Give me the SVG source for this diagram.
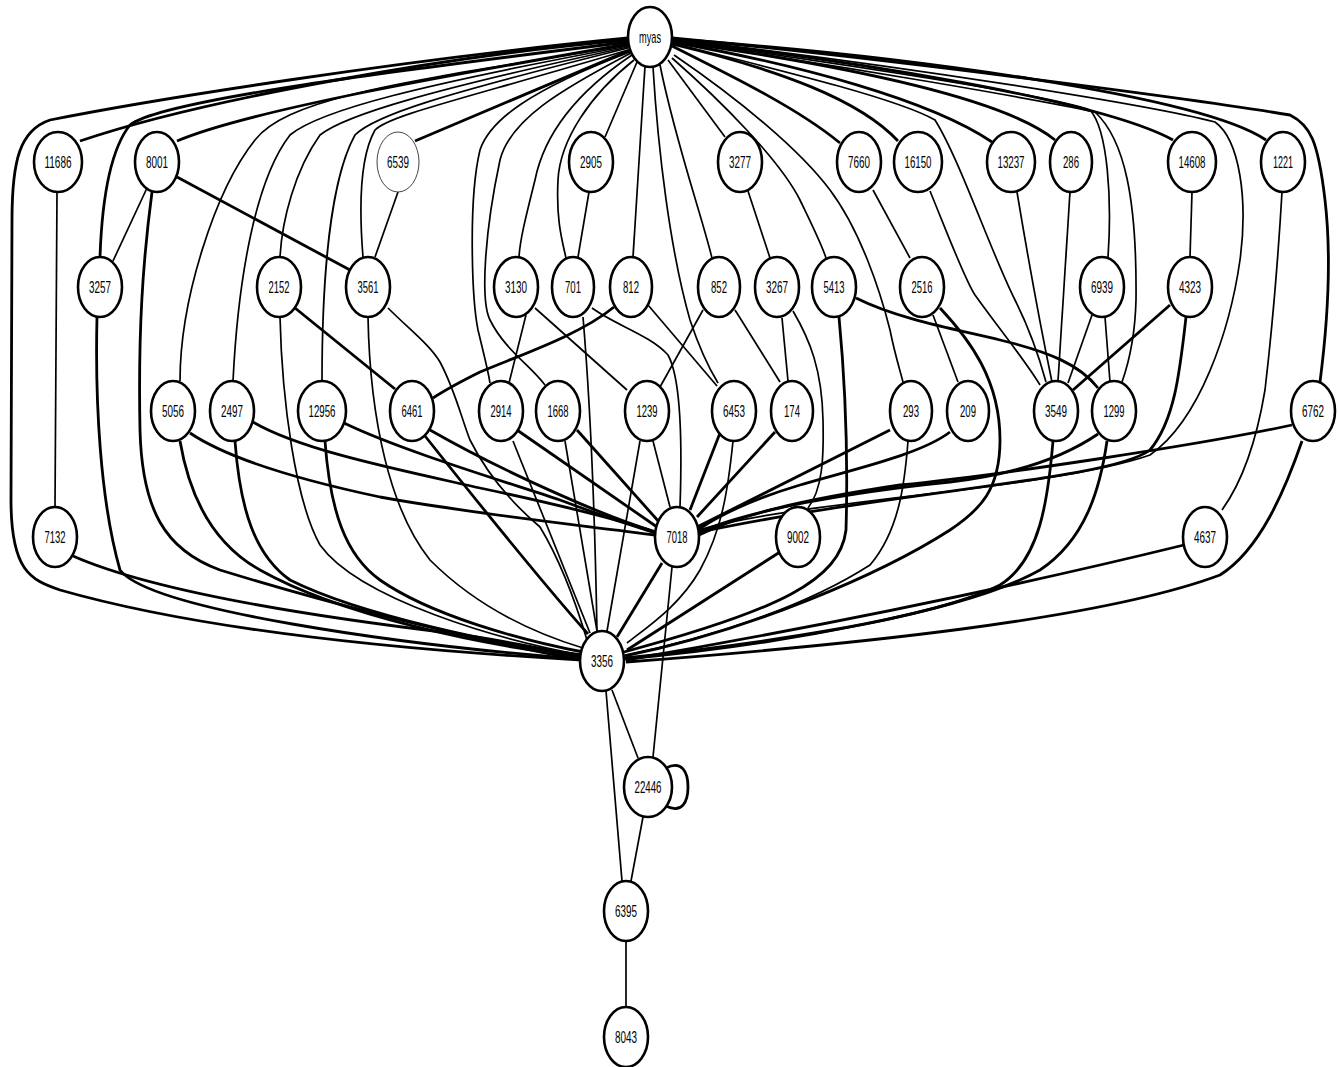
<svg xmlns="http://www.w3.org/2000/svg" width="1338" height="1067" viewBox="0 0 1338 1067">
<style>
.e{fill:none;stroke:#000;stroke-width:1.7}
.t{fill:none;stroke:#000;stroke-width:2.8}
.n ellipse{fill:#fff;stroke:#000;stroke-width:2.6}
.n text{font-family:"Liberation Sans",Arial,sans-serif;font-size:17px;text-anchor:middle;fill:#000}
</style>
<rect width="1338" height="1067" fill="#fff"/>
<g id="edges">
<!-- from myas, left side -->
<path class="t" d="M628,38 C400,60 150,100 50,120 C20,130 12,160 12,220 L11,500 C11,570 30,580 60,590 C200,630 400,650 582,660"/>
<path class="t" d="M628,40 C450,55 200,100 80,141"/>
<path class="t" d="M628,42 C400,70 160,100 130,125 C110,150 102,200 100,257"/>
<path class="t" d="M628,44 C450,75 250,110 177,141"/>
<path class="e" d="M628,45 C420,80 290,95 255,140 C215,190 180,300 180,381"/>
<path class="e" d="M628,46 C420,85 320,110 290,135 C255,180 238,280 233,381"/>
<path class="e" d="M628,47 C430,90 345,115 320,135 C295,170 282,220 280,257"/>
<path class="e" d="M628,48 C440,95 375,115 355,135 C330,180 322,280 322,381"/>
<path class="e" d="M628,50 C460,100 390,115 375,130 C358,160 360,220 363,257"/>
<path class="t" d="M630,50 L415,141"/>
<path class="e" d="M630,52 C530,90 490,120 480,150 C468,200 472,300 478,330 C484,355 488,370 490,383"/>
<path class="e" d="M631,53 C560,90 510,120 500,160 C485,230 480,300 490,320 C505,350 530,365 545,385"/>
<path class="e" d="M632,55 C580,90 545,130 535,180 C525,220 520,240 519,257"/>
<path class="e" d="M634,60 C590,95 560,140 558,180 C556,220 562,240 566,258"/>
<path class="e" d="M637,62 L605,137"/>
<path class="e" d="M645,66 L633,257"/>
<path class="e" d="M653,67 C658,150 670,250 690,320 C700,350 710,370 718,383"/>
<path class="e" d="M660,65 C675,140 700,210 712,258"/>
<path class="e" d="M668,60 L725,137"/>
<path class="e" d="M672,58 C720,100 780,160 800,200 C812,225 822,245 826,258"/>
<path class="e" d="M674,55 C740,100 800,150 830,190 C860,230 880,290 890,330 C895,355 900,370 903,382"/>
<!-- from myas, right side -->
<path class="t" d="M672,46 C740,80 800,110 840,143"/>
<path class="t" d="M672,44 C780,70 860,100 898,141"/>
<path class="t" d="M672,42 C800,65 930,100 992,142"/>
<path class="t" d="M672,41 C820,62 1000,95 1055,140"/>
<path class="t" d="M672,40 C850,60 1100,100 1173,140"/>
<path class="t" d="M672,39 C900,55 1200,95 1266,140"/>
<path class="t" d="M672,38 C900,60 1200,100 1290,115 C1310,125 1318,140 1325,200 C1332,260 1328,320 1320,382"/>
<path class="e" d="M672,39 C900,65 1150,105 1215,122 C1240,140 1248,200 1240,260 C1230,330 1200,420 1150,455 C1050,490 800,500 699,530"/>
<path class="e" d="M672,40 C850,65 1050,95 1090,110 C1108,130 1112,200 1108,257"/>
<path class="e" d="M672,41 C850,67 1040,100 1095,112 C1125,140 1137,200 1136,300 C1135,340 1128,365 1122,382"/>
<path class="e" d="M672,43 C800,75 900,100 935,120 C960,160 990,250 1015,300 C1030,330 1040,360 1046,382"/>
<!-- row 1 down -->
<path class="e" d="M57,192 L55,507"/>
<path class="e" d="M147,188 L113,261"/>
<path class="t" d="M152,192 C143,260 138,330 140,430 C142,510 165,550 220,570 C350,610 480,640 580,660"/>
<path class="t" d="M177,177 L350,270"/>
<path class="e" d="M398,192 L375,257"/>
<path class="e" d="M589,192 L578,257"/>
<path class="e" d="M748,191 L770,258"/>
<path class="e" d="M873,190 L910,258"/>
<path class="e" d="M930,191 C950,240 965,280 975,295 C1000,330 1025,360 1040,385"/>
<path class="e" d="M1017,192 C1025,240 1035,300 1052,382"/>
<path class="e" d="M1070,192 C1067,240 1063,300 1058,381"/>
<path class="e" d="M1192,192 L1190,257"/>
<path class="e" d="M1282,192 C1278,260 1272,330 1265,390 C1255,450 1240,485 1222,510"/>
<!-- row 2 down -->
<path class="t" d="M97,317 C95,400 100,500 120,570 C150,610 400,645 580,659"/>
<path class="t" d="M295,308 L395,389"/>
<path class="e" d="M280,317 C282,400 295,500 320,545 C360,600 500,640 582,655"/>
<path class="e" d="M368,317 C370,420 390,510 430,560 C480,610 540,635 583,648"/>
<path class="e" d="M388,308 C410,330 430,345 440,362 C455,390 462,420 470,440 C490,480 520,510 540,527 C560,560 575,600 587,640"/>
<path class="e" d="M526,315 L509,383"/>
<path class="e" d="M535,308 L627,390"/>
<path class="e" d="M583,317 C590,400 595,520 597,632"/>
<path class="e" d="M592,308 C615,325 650,335 668,355 C682,380 682,450 680,507"/>
<path class="t" d="M614,307 C580,335 520,355 480,372 C460,382 445,390 433,398"/>
<path class="e" d="M648,305 L717,386"/>
<path class="e" d="M703,310 L660,387"/>
<path class="e" d="M735,310 L780,382"/>
<path class="e" d="M782,318 L788,381"/>
<path class="e" d="M793,311 C810,340 822,370 823,420 C824,460 822,490 808,508"/>
<path class="t" d="M839,317 C845,380 848,460 846,530 C840,580 780,610 624,652"/>
<path class="t" d="M856,298 C900,320 960,330 1000,340 C1050,352 1080,365 1098,388"/>
<path class="e" d="M933,315 L958,382"/>
<path class="t" d="M940,308 C970,340 1000,380 1000,440 C1000,490 980,510 950,530 C880,575 750,630 625,656"/>
<path class="e" d="M1092,315 L1068,383"/>
<path class="e" d="M1105,317 L1110,382"/>
<path class="t" d="M1170,305 L1073,390"/>
<path class="t" d="M1186,317 C1180,370 1175,420 1150,450 C1110,480 900,490 700,532"/>
<!-- row 3 down -->
<path class="t" d="M190,433 C230,460 300,480 380,497 C480,515 580,525 655,535"/>
<path class="t" d="M180,441 C190,500 215,545 260,570 C340,615 480,645 582,657"/>
<path class="t" d="M253,422 C300,450 400,470 480,488 C560,505 620,520 655,532"/>
<path class="t" d="M235,441 C240,510 255,555 290,580 C360,615 500,645 582,655"/>
<path class="t" d="M344,423 C400,450 500,480 560,500 C600,515 630,525 655,533"/>
<path class="t" d="M325,441 C330,510 345,555 380,580 C430,615 520,640 583,652"/>
<path class="t" d="M430,430 C500,470 600,515 656,532"/>
<path class="t" d="M425,436 C460,480 540,580 588,634"/>
<path class="t" d="M517,430 L657,527"/>
<path class="e" d="M513,441 L590,633"/>
<path class="t" d="M577,430 L660,523"/>
<path class="e" d="M565,441 L597,631"/>
<path class="e" d="M653,441 L670,507"/>
<path class="e" d="M640,441 L607,631"/>
<path class="t" d="M720,433 L690,510"/>
<path class="e" d="M733,441 C728,490 722,530 700,570 C680,605 650,625 627,643"/>
<path class="t" d="M775,432 L697,517"/>
<path class="t" d="M890,430 L697,527"/>
<path class="e" d="M908,441 C905,480 900,530 870,565 C800,610 700,640 625,655"/>
<path class="t" d="M950,432 C920,455 850,470 800,485 C750,500 720,515 699,529"/>
<path class="t" d="M1053,441 C1048,500 1040,560 1000,585 C930,620 750,645 625,658"/>
<path class="t" d="M1098,434 C1060,460 1010,475 950,482 C850,492 750,510 699,532"/>
<path class="t" d="M1107,441 C1100,490 1085,540 1040,570 C970,610 780,645 625,659"/>
<path class="t" d="M1292,425 C1200,445 1000,475 900,485 C800,500 740,515 699,535"/>
<path class="t" d="M1302,441 C1285,490 1260,550 1220,575 C1100,620 850,645 626,662"/>
<!-- row 4 down -->
<path class="t" d="M73,556 C150,590 300,615 450,633 C500,640 550,650 580,656"/>
<path class="t" d="M1184,545 C1000,590 800,630 626,660"/>
<path class="t" d="M780,552 L627,650"/>
<path class="t" d="M662,563 L617,637"/>
<path class="e" d="M672,567 L653,757"/>
<path class="e" d="M612,690 L638,758"/>
<path class="e" d="M606,691 L622,881"/>
<path class="e" d="M643,817 L631,881"/>
<path class="e" d="M626,941 L626,1007"/>
<path class="t" d="M666,768 C682,760 688,772 688,787 C688,802 682,814 666,806"/>
</g>
<g id="n-myas" class="n"><ellipse cx="650" cy="37" rx="22" ry="30"/><text x="650" y="43" textLength="22" lengthAdjust="spacingAndGlyphs">myas</text></g>
<g id="n-11686" class="n"><ellipse cx="58" cy="162" rx="24" ry="30"/><text x="58" y="168" textLength="27" lengthAdjust="spacingAndGlyphs">11686</text></g>
<g id="n-8001" class="n"><ellipse cx="157" cy="162" rx="22" ry="30"/><text x="157" y="168" textLength="22" lengthAdjust="spacingAndGlyphs">8001</text></g>
<g id="n-6539" class="n"><ellipse cx="398" cy="162" rx="21" ry="30" style="stroke-width:1;stroke:#444"/><text x="398" y="168" textLength="22" lengthAdjust="spacingAndGlyphs">6539</text></g>
<g id="n-2905" class="n"><ellipse cx="591" cy="162" rx="22" ry="30"/><text x="591" y="168" textLength="22" lengthAdjust="spacingAndGlyphs">2905</text></g>
<g id="n-3277" class="n"><ellipse cx="740" cy="162" rx="22" ry="30"/><text x="740" y="168" textLength="22" lengthAdjust="spacingAndGlyphs">3277</text></g>
<g id="n-7660" class="n"><ellipse cx="859" cy="162" rx="22" ry="30"/><text x="859" y="168" textLength="22" lengthAdjust="spacingAndGlyphs">7660</text></g>
<g id="n-16150" class="n"><ellipse cx="918" cy="162" rx="24" ry="30"/><text x="918" y="168" textLength="27" lengthAdjust="spacingAndGlyphs">16150</text></g>
<g id="n-13237" class="n"><ellipse cx="1011" cy="162" rx="24" ry="30"/><text x="1011" y="168" textLength="27" lengthAdjust="spacingAndGlyphs">13237</text></g>
<g id="n-286" class="n"><ellipse cx="1071" cy="162" rx="21" ry="30"/><text x="1071" y="168" textLength="16" lengthAdjust="spacingAndGlyphs">286</text></g>
<g id="n-14608" class="n"><ellipse cx="1192" cy="162" rx="24" ry="30"/><text x="1192" y="168" textLength="27" lengthAdjust="spacingAndGlyphs">14608</text></g>
<g id="n-1221" class="n"><ellipse cx="1283" cy="162" rx="22" ry="30"/><text x="1283" y="168" textLength="20" lengthAdjust="spacingAndGlyphs">1221</text></g>
<g id="n-3257" class="n"><ellipse cx="100" cy="287" rx="22" ry="30"/><text x="100" y="293" textLength="22" lengthAdjust="spacingAndGlyphs">3257</text></g>
<g id="n-2152" class="n"><ellipse cx="279" cy="287" rx="22" ry="30"/><text x="279" y="293" textLength="21" lengthAdjust="spacingAndGlyphs">2152</text></g>
<g id="n-3561" class="n"><ellipse cx="368" cy="287" rx="22" ry="30"/><text x="368" y="293" textLength="21" lengthAdjust="spacingAndGlyphs">3561</text></g>
<g id="n-3130" class="n"><ellipse cx="516" cy="287" rx="22" ry="30"/><text x="516" y="293" textLength="22" lengthAdjust="spacingAndGlyphs">3130</text></g>
<g id="n-701" class="n"><ellipse cx="573" cy="287" rx="21" ry="30"/><text x="573" y="293" textLength="16" lengthAdjust="spacingAndGlyphs">701</text></g>
<g id="n-812" class="n"><ellipse cx="631" cy="287" rx="21" ry="30"/><text x="631" y="293" textLength="16" lengthAdjust="spacingAndGlyphs">812</text></g>
<g id="n-852" class="n"><ellipse cx="719" cy="287" rx="21" ry="30"/><text x="719" y="293" textLength="16" lengthAdjust="spacingAndGlyphs">852</text></g>
<g id="n-3267" class="n"><ellipse cx="777" cy="287" rx="22" ry="30"/><text x="777" y="293" textLength="22" lengthAdjust="spacingAndGlyphs">3267</text></g>
<g id="n-5413" class="n"><ellipse cx="834" cy="287" rx="22" ry="30"/><text x="834" y="293" textLength="21" lengthAdjust="spacingAndGlyphs">5413</text></g>
<g id="n-2516" class="n"><ellipse cx="922" cy="287" rx="22" ry="30"/><text x="922" y="293" textLength="21" lengthAdjust="spacingAndGlyphs">2516</text></g>
<g id="n-6939" class="n"><ellipse cx="1102" cy="287" rx="22" ry="30"/><text x="1102" y="293" textLength="22" lengthAdjust="spacingAndGlyphs">6939</text></g>
<g id="n-4323" class="n"><ellipse cx="1190" cy="287" rx="22" ry="30"/><text x="1190" y="293" textLength="22" lengthAdjust="spacingAndGlyphs">4323</text></g>
<g id="n-5056" class="n"><ellipse cx="173" cy="411" rx="22" ry="30"/><text x="173" y="417" textLength="22" lengthAdjust="spacingAndGlyphs">5056</text></g>
<g id="n-2497" class="n"><ellipse cx="232" cy="411" rx="22" ry="30"/><text x="232" y="417" textLength="22" lengthAdjust="spacingAndGlyphs">2497</text></g>
<g id="n-12956" class="n"><ellipse cx="322" cy="411" rx="24" ry="30"/><text x="322" y="417" textLength="27" lengthAdjust="spacingAndGlyphs">12956</text></g>
<g id="n-6461" class="n"><ellipse cx="412" cy="411" rx="22" ry="30"/><text x="412" y="417" textLength="21" lengthAdjust="spacingAndGlyphs">6461</text></g>
<g id="n-2914" class="n"><ellipse cx="501" cy="411" rx="22" ry="30"/><text x="501" y="417" textLength="21" lengthAdjust="spacingAndGlyphs">2914</text></g>
<g id="n-1668" class="n"><ellipse cx="558" cy="411" rx="22" ry="30"/><text x="558" y="417" textLength="21" lengthAdjust="spacingAndGlyphs">1668</text></g>
<g id="n-1239" class="n"><ellipse cx="647" cy="411" rx="22" ry="30"/><text x="647" y="417" textLength="21" lengthAdjust="spacingAndGlyphs">1239</text></g>
<g id="n-6453" class="n"><ellipse cx="734" cy="411" rx="22" ry="30"/><text x="734" y="417" textLength="22" lengthAdjust="spacingAndGlyphs">6453</text></g>
<g id="n-174" class="n"><ellipse cx="792" cy="411" rx="21" ry="30"/><text x="792" y="417" textLength="16" lengthAdjust="spacingAndGlyphs">174</text></g>
<g id="n-293" class="n"><ellipse cx="911" cy="411" rx="21" ry="30"/><text x="911" y="417" textLength="16" lengthAdjust="spacingAndGlyphs">293</text></g>
<g id="n-209" class="n"><ellipse cx="968" cy="411" rx="21" ry="30"/><text x="968" y="417" textLength="16" lengthAdjust="spacingAndGlyphs">209</text></g>
<g id="n-3549" class="n"><ellipse cx="1056" cy="411" rx="22" ry="30"/><text x="1056" y="417" textLength="22" lengthAdjust="spacingAndGlyphs">3549</text></g>
<g id="n-1299" class="n"><ellipse cx="1114" cy="411" rx="22" ry="30"/><text x="1114" y="417" textLength="21" lengthAdjust="spacingAndGlyphs">1299</text></g>
<g id="n-6762" class="n"><ellipse cx="1313" cy="411" rx="22" ry="30"/><text x="1313" y="417" textLength="22" lengthAdjust="spacingAndGlyphs">6762</text></g>
<g id="n-7132" class="n"><ellipse cx="55" cy="537" rx="22" ry="30"/><text x="55" y="543" textLength="21" lengthAdjust="spacingAndGlyphs">7132</text></g>
<g id="n-7018" class="n"><ellipse cx="677" cy="537" rx="22" ry="30"/><text x="677" y="543" textLength="21" lengthAdjust="spacingAndGlyphs">7018</text></g>
<g id="n-9002" class="n"><ellipse cx="798" cy="537" rx="22" ry="30"/><text x="798" y="543" textLength="22" lengthAdjust="spacingAndGlyphs">9002</text></g>
<g id="n-4637" class="n"><ellipse cx="1205" cy="537" rx="22" ry="30"/><text x="1205" y="543" textLength="22" lengthAdjust="spacingAndGlyphs">4637</text></g>
<g id="n-3356" class="n"><ellipse cx="602" cy="661" rx="22" ry="30"/><text x="602" y="667" textLength="22" lengthAdjust="spacingAndGlyphs">3356</text></g>
<g id="n-22446" class="n"><ellipse cx="648" cy="787" rx="24" ry="30"/><text x="648" y="793" textLength="27" lengthAdjust="spacingAndGlyphs">22446</text></g>
<g id="n-6395" class="n"><ellipse cx="626" cy="911" rx="22" ry="30"/><text x="626" y="917" textLength="22" lengthAdjust="spacingAndGlyphs">6395</text></g>
<g id="n-8043" class="n"><ellipse cx="626" cy="1037" rx="22" ry="30"/><text x="626" y="1043" textLength="22" lengthAdjust="spacingAndGlyphs">8043</text></g>
</svg>
